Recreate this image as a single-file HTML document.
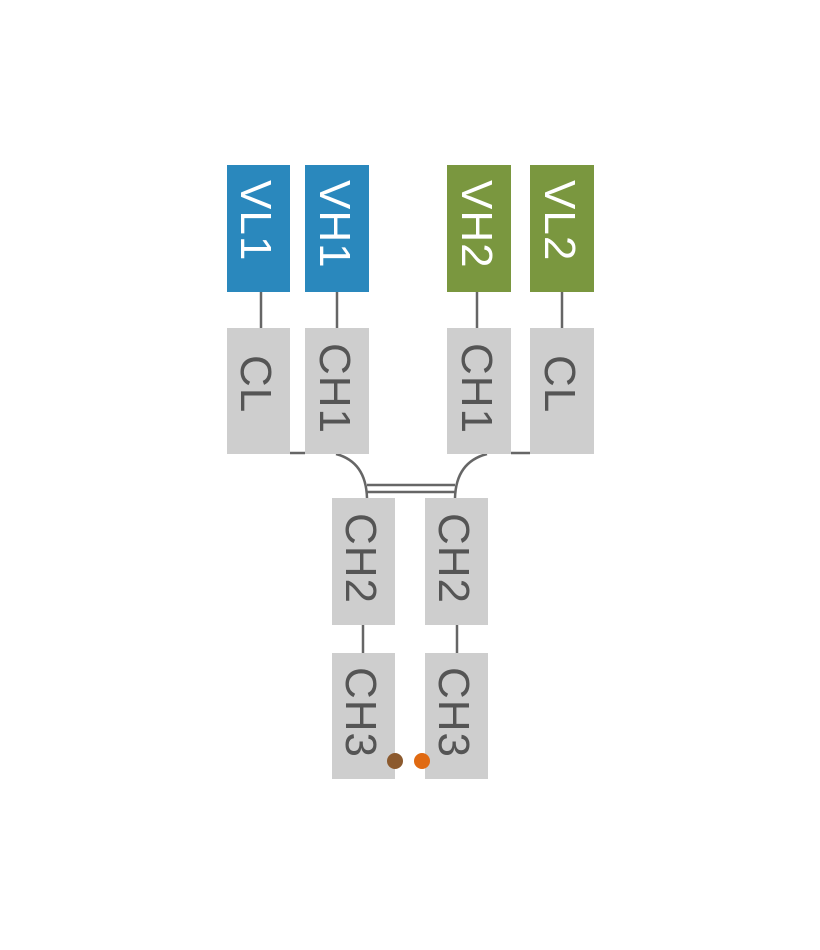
<!DOCTYPE html>
<html><head><meta charset="utf-8"><style>body{margin:0;background:#fff}</style></head>
<body>
<svg width="820" height="945" xmlns="http://www.w3.org/2000/svg" font-family="Liberation Sans, sans-serif" font-size="44" letter-spacing="1">
<g stroke="#666" stroke-width="2.5" fill="none">
<line x1="261" y1="292" x2="261" y2="328"/>
<line x1="337" y1="292" x2="337" y2="328"/>
<line x1="477" y1="292" x2="477" y2="328"/>
<line x1="562" y1="292" x2="562" y2="328"/>
<line x1="290" y1="453" x2="305" y2="453"/>
<line x1="511" y1="453" x2="530" y2="453"/>
<path d="M336 454 Q366 462 367 498"/>
<path d="M487 454 Q456 462 455 498"/>
<line x1="367" y1="485" x2="455" y2="485"/>
<line x1="367" y1="492" x2="455" y2="492"/>
<line x1="363" y1="625" x2="363" y2="653"/>
<line x1="457" y1="625" x2="457" y2="653"/>
</g>
<rect x="227" y="165" width="63" height="127" fill="#2a88bd"/>
<rect x="305" y="165" width="64" height="127" fill="#2a88bd"/>
<rect x="447" y="165" width="64" height="127" fill="#7a973f"/>
<rect x="530" y="165" width="64" height="127" fill="#7a973f"/>
<g fill="#cecece">
<rect x="227" y="328" width="63" height="126"/>
<rect x="305" y="328" width="64" height="126"/>
<rect x="447" y="328" width="64" height="126"/>
<rect x="530" y="328" width="64" height="126"/>
<rect x="332" y="498" width="63" height="127"/>
<rect x="425" y="498" width="63" height="127"/>
<rect x="332" y="653" width="63" height="126"/>
<rect x="425" y="653" width="63" height="126"/>
</g>
<g fill="#fff">
<text transform="translate(241,180) rotate(90)">VL1</text>
<text transform="translate(320,180) rotate(90)">VH1</text>
<text transform="translate(462,180) rotate(90)">VH2</text>
<text transform="translate(545,180) rotate(90)">VL2</text>
</g>
<g fill="#555">
<text transform="translate(241,355) rotate(90)">CL</text>
<text transform="translate(320,343) rotate(90)">CH1</text>
<text transform="translate(462,343) rotate(90)">CH1</text>
<text transform="translate(545,355) rotate(90)">CL</text>
<text transform="translate(346,513) rotate(90)">CH2</text>
<text transform="translate(439,513) rotate(90)">CH2</text>
<text transform="translate(346,667) rotate(90)">CH3</text>
<text transform="translate(439,667) rotate(90)">CH3</text>
</g>
<circle cx="395" cy="761" r="8" fill="#8c5a2e"/>
<circle cx="422" cy="761" r="8" fill="#e06a12"/>
</svg>
</body></html>
